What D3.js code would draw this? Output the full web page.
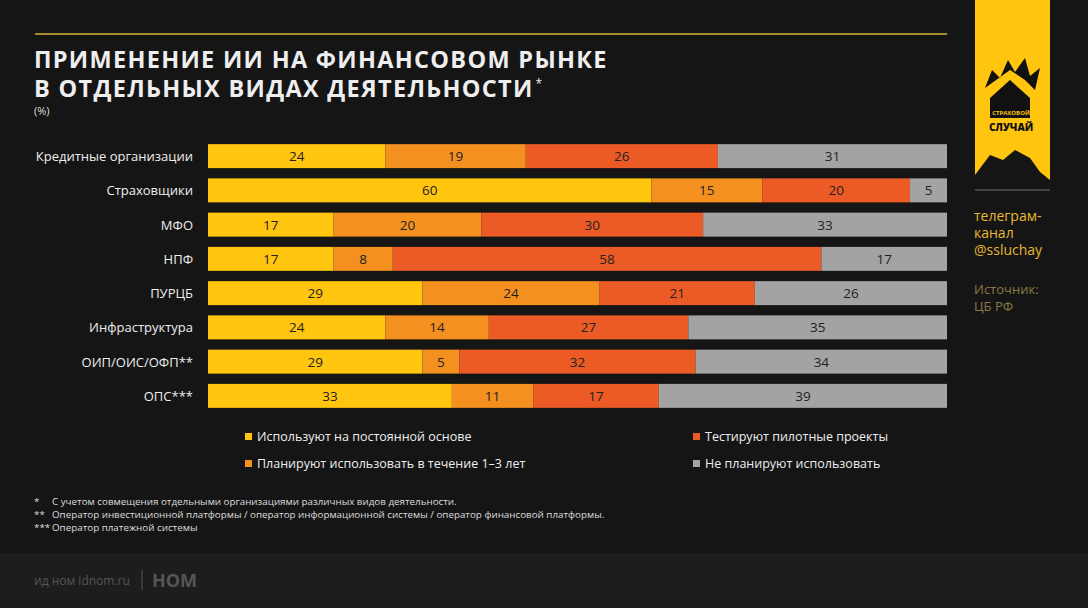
<!DOCTYPE html>
<html><head><meta charset="utf-8">
<script src="https://cdn.jsdelivr.net/npm/d3@7"></script>
<style>body{margin:0;background:#151515;}svg{display:block;font-family:"Open Sans",sans-serif}</style>
</head><body><svg id="c" width="1088" height="608"></svg>
<script>
const categories = ["Кредитные организации","Страховщики","МФО","НПФ","ПУРЦБ","Инфраструктура","ОИП/ОИС/ОФП**","ОПС***"];
const constant = [24,60,17,17,29,24,29,33];
const planning = [19,15,20,8,24,14,5,11];
const testing = [26,20,30,58,21,27,32,17];
const notPlanned = [31,5,33,17,26,35,34,39];
const seriesNames = ["Используют на постоянной основе","Планируют использовать в течение 1–3 лет","Тестируют пилотные проекты","Не планируют использовать"];
const colors = ["#FFC50F","#F39020","#EC5B25","#A3A3A3"];

const svg = d3.select("#c");
svg.append("rect").attr("x",0).attr("y",553).attr("width",1088).attr("height",55).attr("fill","#1d1d1d");
svg.append("line").attr("x1",35).attr("x2",947).attr("y1",34).attr("y2",34).attr("stroke","#d9b433").attr("stroke-width",1.5);

// right panel
svg.append("path").attr("d","M975,0H1050V180L1040,172L1030,158L1015,150L1003,160L990,155L975,175Z").attr("fill","#FFC50F");
svg.append("path").attr("d","M990,98L1010,80L1030,98V118H990Z").attr("fill","#111");
svg.append("path").attr("d","M985,88L992,70L1000,78L1008,60L1015,72L1025,58L1030,76L1040,68L1035,90L1025,80L1010,70Z").attr("fill","#111");
svg.append("text").attr("x",1011).attr("y",115).attr("text-anchor","middle").attr("font-size",6).attr("font-weight",700).attr("fill","#FFC50F").text("СТРАХОВОЙ");
svg.append("text").attr("x",1011).attr("y",131).attr("text-anchor","middle").attr("font-size",10).attr("font-weight",800).attr("fill","#111").text("СЛУЧАЙ");
svg.append("line").attr("x1",975).attr("x2",1050).attr("y1",190).attr("y2",190).attr("stroke","#555").attr("stroke-width",1.5);
["телеграм-","канал","@ssluchay"].forEach((t,i)=>svg.append("text").attr("x",974).attr("y",221+i*17).attr("font-size",14).attr("fill","#E8B830").text(t));
["Источник:","ЦБ РФ"].forEach((t,i)=>svg.append("text").attr("x",974).attr("y",294+i*17).attr("font-size",13).attr("fill","#8a7a45").text(t));

// title
const tl = ["ПРИМЕНЕНИЕ ИИ НА ФИНАНСОВОМ РЫНКЕ","В ОТДЕЛЬНЫХ ВИДАХ ДЕЯТЕЛЬНОСТИ"].map((t,i)=>svg.append("text").attr("x",34).attr("y",68+i*29).attr("font-size",23.5).attr("font-weight",700).attr("letter-spacing",1.3).attr("fill","#eee").text(t));
const tw = tl[1].node().getComputedTextLength();
svg.append("text").attr("x",34+tw+2).attr("y",88).attr("font-size",12).attr("fill","#eee").text("*");
svg.append("text").attr("x",34).attr("y",115).attr("font-size",11).attr("fill","#ddd").text("(%)");

const x = d3.scaleLinear().domain([0,100]).range([208,947]);
const y = d3.scaleBand().domain(categories).range([139,413]).paddingInner(0.3).paddingOuter(0.15);
const series = [constant,planning,testing,notPlanned];
const rows = categories.map((c,i)=>{let s=0;return series.map((arr,k)=>{const d={cat:c,k,v:arr[i],x0:s};s+=arr[i];return d;});}).flat();
svg.selectAll("rect.bar").data(rows).enter().append("rect").attr("class","bar")
  .attr("x",d=>x(d.x0)).attr("y",d=>y(d.cat)).attr("width",d=>x(d.x0+d.v)-x(d.x0)).attr("height",y.bandwidth()).attr("fill",d=>colors[d.k]);
svg.selectAll("text.val").data(rows).enter().append("text").attr("class","val")
  .attr("x",d=>x(d.x0+d.v/2)).attr("y",d=>y(d.cat)+y.bandwidth()/2+5).attr("text-anchor","middle").attr("font-size",13.5).attr("fill","#222").text(d=>d.v);
svg.selectAll("text.cat").data(categories).enter().append("text").attr("class","cat")
  .attr("x",193).attr("y",d=>y(d)+y.bandwidth()/2+5).attr("text-anchor","end").attr("font-size",13).attr("fill","#eee").text(d=>d);

// legend
const lp = [[245,441],[245,468],[693,441],[693,468]];
seriesNames.forEach((n,i)=>{
  svg.append("rect").attr("x",lp[i][0]).attr("y",lp[i][1]-8).attr("width",7).attr("height",7).attr("fill",colors[i]);
  svg.append("text").attr("x",lp[i][0]+12).attr("y",lp[i][1]).attr("font-size",12.5).attr("fill","#eee").text(n);
});

// notes
[["*","С учетом совмещения отдельными организациями различных видов деятельности."],
 ["**","Оператор инвестиционной платформы / оператор информационной системы / оператор финансовой платформы."],
 ["***","Оператор платежной системы"]].forEach((t,i)=>{
  svg.append("text").attr("x",34).attr("y",505+i*13).attr("font-size",9.8).attr("fill","#ddd").text(t[0]);
  svg.append("text").attr("x",52).attr("y",505+i*13).attr("font-size",9.8).attr("fill","#ddd").text(t[1]);
});
svg.append("text").attr("x",34).attr("y",585).attr("font-size",12).attr("fill","#555").text("ид ном idnom.ru");
svg.append("line").attr("x1",142).attr("x2",142).attr("y1",570).attr("y2",590).attr("stroke","#555");
svg.append("text").attr("x",152).attr("y",587).attr("font-size",18).attr("font-weight",700).attr("fill","#555").text("НОМ");
</script></body></html>
